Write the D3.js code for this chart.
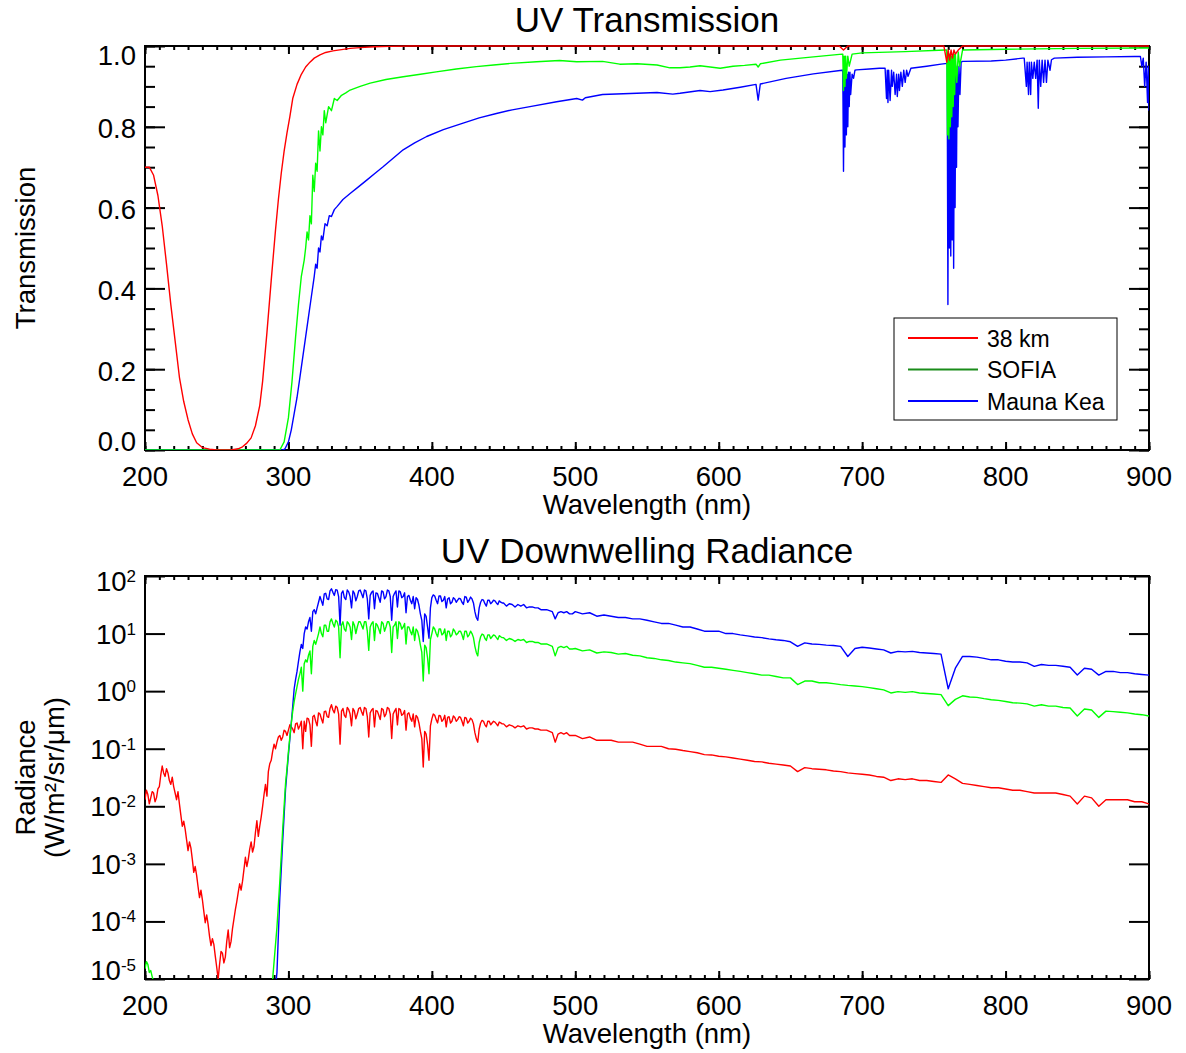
<!DOCTYPE html>
<html lang="en">
<head>
<meta charset="UTF-8">
<title>UV Transmission and Downwelling Radiance</title>
<script src="https://d3js.org/d3.v7.min.js"></script>
<style>
    body { margin: 0; background: white; }
    svg text { font-family: "Liberation Sans", Arial, Helvetica, sans-serif; fill: black; }
    .ticks .domain { display: none; }
    .ticks line { stroke: black; stroke-width: 2; }
</style>
</head>
<body>
<svg id="chart" width="1186" height="1053"></svg>
<script>

/** DATA **/
// series names
var seriesNames = ["38 km", "SOFIA", "Mauna Kea"];

// transmission, 38 km
var trans38Wave = [200,203,206,209,212,215,218,221,224,227,230,233,236,240,245,250,255,260,265,268,
    271,274,277,280,282,285,288,291,293,295,297,299,301,303,306,309,312,315,318,322,
    326,331,337,343,350,360,370,385,400,450,500,600,684,687,690,757,759,760,761,762,
    763,764,765,767,770,800,900];
var trans38 = [0.70,0.70,0.68,0.63,0.555,0.46,0.36,0.27,0.18,0.12,0.075,0.04,0.018,0.006,0.002,0,0,0,0.003,0.008,
    0.017,0.03,0.06,0.11,0.17,0.29,0.42,0.545,0.62,0.685,0.74,0.785,0.825,0.87,0.905,0.93,0.948,0.96,0.97,0.978,
    0.984,0.988,0.991,0.994,0.996,0.998,0.999,1,1,1,1,1,1,0.99,1,1,0.96,0.99,0.965,0.99,
    0.97,0.99,0.98,0.99,1,1,1];

// transmission, SOFIA
var transSofiaWave = [200,290,294,297,300,302.5,305,307,309,311,312,313,314,315,316,317,318,319,320,321,
    322,323,324,325,326,328,330,332,334,337,340,343,350,357,368,380,392,403,417,431,
    443,455,473,489,501,519,531,543,557,566,573,580,587,594,601,610,618,626,627.5,629,
    643,666,686,686.5,687,687.5,688,688.5,689,690,691,693,700,730,758,759,759.5,760,760.5,761,
    761.5,762,762.5,763,763.5,764,764.5,765,766,767,768,770,800,850,900];
var transSofia = [0,0,0,0.02,0.08,0.17,0.28,0.36,0.43,0.47,0.50,0.54,0.52,0.58,0.56,0.68,0.64,0.71,0.69,0.79,
    0.74,0.80,0.78,0.84,0.81,0.85,0.84,0.87,0.865,0.878,0.884,0.891,0.90,0.908,0.917,0.924,0.930,0.936,0.943,0.949,
    0.953,0.957,0.961,0.964,0.961,0.962,0.955,0.956,0.953,0.946,0.946,0.948,0.951,0.948,0.945,0.950,0.952,0.955,0.948,0.956,
    0.965,0.973,0.980,0.98,0.89,0.975,0.90,0.975,0.92,0.975,0.95,0.98,0.983,0.986,0.990,0.990,0.78,0.985,0.77,0.98,
    0.80,0.975,0.825,0.975,0.85,0.98,0.88,0.98,0.91,0.985,0.95,0.99,0.992,0.994,0.995];

// transmission, Mauna Kea
var transMKWave = [200,296,297.6,300,302,304,306,308,310,312,314,316,318,319,320,321,322,323,324,325.5,
    327,328.5,330,332,334,338,343,349,354.6,360,366,373,380,388,396.4,408,421.8,433,445,456,
    468.4,487,501,505,507,519,543,557,568,573,587,594,603,615,626,627.5,629,647,666,686,
    686.5,687,687.5,688,688.5,689,689.5,690,690.5,691,691.5,692,693,694,695,696,705,712,716,717,
    717.5,718,718.5,719.5,720.5,721,722,723,724,724.5,725.5,726,727,728,729,730,731,732,734,745,
    755,759.3,759.8,760.3,760.8,761.3,761.8,762.3,762.8,763.3,763.8,764.3,764.8,765.3,765.8,766.3,766.8,767.5,768.2,769,
    770,790,800,812,813,814.5,815,816,816.5,817.5,818,819,820,821,822,822.8,823.5,824.5,825.5,826.5,
    827.5,828.5,829.5,831,832,834,850,870,890,894,895,896,897,898,899,899.5,900];
var transMK = [0,0,0.003,0.02,0.05,0.09,0.13,0.18,0.23,0.28,0.33,0.38,0.43,0.46,0.45,0.50,0.49,0.53,0.52,0.56,
    0.555,0.58,0.578,0.595,0.603,0.62,0.635,0.652,0.668,0.684,0.701,0.722,0.743,0.760,0.776,0.793,0.809,0.822,0.833,0.842,
    0.850,0.862,0.870,0.866,0.872,0.880,0.883,0.885,0.881,0.883,0.890,0.887,0.891,0.898,0.905,0.866,0.906,0.920,0.931,0.940,
    0.94,0.69,0.93,0.75,0.93,0.78,0.93,0.80,0.935,0.85,0.935,0.88,0.93,0.92,0.94,0.941,0.943,0.945,0.945,0.87,
    0.94,0.86,0.94,0.865,0.94,0.90,0.935,0.88,0.93,0.875,0.93,0.89,0.935,0.90,0.94,0.91,0.94,0.925,0.945,0.950,
    0.955,0.957,0.36,0.95,0.50,0.94,0.48,0.93,0.52,0.92,0.45,0.93,0.60,0.94,0.70,0.95,0.80,0.95,0.88,0.96,
    0.962,0.963,0.965,0.970,0.97,0.90,0.96,0.88,0.96,0.88,0.96,0.92,0.96,0.92,0.965,0.846,0.965,0.90,0.965,0.91,
    0.965,0.91,0.965,0.94,0.966,0.97,0.972,0.973,0.974,0.974,0.95,0.97,0.90,0.96,0.86,0.95,0.84];

// radiance wavelength grid (nm)
var radWave = [200,201,202,203,204,205,206,207,208,209,210,211,212,213,214,215,216,217,218,219,
    220,221,222,223,224,225,226,227,228,229,230,231,232,233,234,235,236,237,238,239,
    240,241,242,243,244,245,246,247,248,249,250,251,252,253,254,255,256,257,258,259,
    260,261,262,263,264,265,266,267,268,269,270,271,272,273,274,275,276,277,278,279,
    280,281,282,283,284,285,286,287,288,289,290,291,292,293,294,295,296,297,298,299,
    300,301,302,303,304,305,306,307,308,309,310,311,312,313,314,315,316,317,318,319,
    320,321,322,323,324,325,326,327,328,329,330,331,332,333,334,335,336,337,338,339,
    340,341,342,343,344,345,346,347,348,349,350,351,352,353,354,355,356,357,358,359,
    360,361,362,363,364,365,366,367,368,369,370,371,372,373,374,375,376,377,378,379,
    380,381,382,383,384,385,386,387,388,389,390,391,392,393,394,395,396,397,398,399,
    400,401,402,403,404,405,406,407,408,409,410,411,412,413,414,415,416,417,418,419,
    420,421,422,423,424,425,426,427,428,429,430,431,432,433,434,435,436,437,438,439,
    440,441,442,443,444,445,446,447,448,449,
    450,452,454,456,458,460,462,464,466,468,470,472,474,476,478,480,482,484,486,488,
    490,492,494,496,498,
    500,505,510,515,520,525,530,535,540,545,550,555,560,565,570,575,580,585,590,595,
    600,605,610,615,620,625,630,635,640,645,650,655,660,665,670,675,680,685,690,695,
    700,705,710,715,720,725,730,735,740,745,750,755,760,765,770,775,780,785,790,795,
    800,805,810,815,820,825,830,835,840,845,850,855,860,865,870,875,880,885,890,895,900];

// radiance, 38 km (W/m2/sr/um)
var rad38 = [
    1.3e-2,1.9e-2,1.6e-2,1.1e-2,1.4e-2,1.8e-2,1.7e-2,1.2e-2,1.4e-2,2.0e-2,
    2.2e-2,3.5e-2,5.0e-2,3.8e-2,3.3e-2,4.5e-2,3.8e-2,2.8e-2,2.4e-2,3.2e-2,
    2.2e-2,1.7e-2,1.3e-2,1.8e-2,1.1e-2,7.0e-3,4.5e-3,5.5e-3,4.0e-3,2.6e-3,
    1.7e-3,2.4e-3,1.9e-3,1.2e-3,7.1e-4,9.0e-4,6.3e-4,4.0e-4,2.6e-4,3.5e-4,
    2.4e-4,1.5e-4,9.5e-5,1.3e-4,8.9e-5,5.5e-5,3.8e-5,5.0e-5,4.0e-5,2.5e-5,
    1.6e-5,1.0e-5,1.8e-5,3.0e-5,2.8e-5,1.9e-5,2.4e-5,4.5e-5,7.1e-5,3.5e-5,
    4.5e-5,7.5e-5,1.1e-4,1.6e-4,2.2e-4,3.2e-4,4.5e-4,3.5e-4,5.0e-4,8.0e-4,
    1.3e-3,9.0e-4,1.2e-3,1.8e-3,2.4e-3,1.6e-3,2.0e-3,3.5e-3,5.6e-3,3.0e-3,
    4.5e-3,6.5e-3,1.0e-2,1.6e-2,2.4e-2,1.5e-2,4.0e-2,5.5e-2,6.3e-2,9.0e-2,
    0.12,0.10,0.13,0.16,0.17,0.14,0.16,0.21,0.20,0.17,
    0.21,0.26,0.24,0.22,0.19,0.27,0.28,0.22,0.25,0.30,
    0.10,0.30,0.20,0.34,0.33,0.26,0.11,0.36,0.38,0.30,
    0.25,0.42,0.40,0.33,0.28,0.44,0.45,0.36,0.35,0.50,
    0.58,0.47,0.42,0.55,0.52,0.40,0.12,0.45,0.50,0.38,
    0.35,0.52,0.48,0.40,0.25,0.50,0.45,0.33,0.40,0.50,
    0.52,0.44,0.38,0.52,0.50,0.36,0.16,0.42,0.47,0.50,
    0.24,0.46,0.45,0.38,0.32,0.50,0.48,0.36,0.40,0.52,
    0.50,0.40,0.15,0.40,0.45,0.50,0.26,0.50,0.48,0.38,
    0.40,0.46,0.21,0.40,0.42,0.34,0.30,0.40,0.24,0.38,
    0.35,0.28,0.20,0.15,0.048,0.20,0.18,0.12,0.063,0.25,
    0.33,0.40,0.38,0.32,0.28,0.38,0.37,0.30,0.32,0.38,
    0.24,0.35,0.36,0.28,0.30,0.37,0.35,0.30,0.32,0.36,
    0.35,0.30,0.25,0.35,0.34,0.28,0.30,0.34,0.32,0.27,
    0.19,0.15,0.13,0.22,0.28,0.31,0.30,0.26,0.24,0.30,
    0.30,0.26,0.28,0.30,0.29,0.27,0.25,0.29,0.28,0.27,
    0.27,0.24,0.26,0.25,0.23,0.25,0.24,0.25,0.22,0.23,
    0.23,0.22,0.22,0.21,0.21,0.21,0.20,0.19,0.13,0.18,
    0.19,0.18,0.19,0.17,0.17,
    0.17,0.15,0.16,0.14,0.14,0.14,0.13,0.13,0.13,0.12,
    0.11,0.11,0.11,0.10,0.098,0.093,0.089,0.085,0.079,0.078,
    0.074,0.072,0.069,0.066,0.063,0.060,0.059,0.056,0.054,0.052,
    0.050,0.040,0.047,0.045,0.044,0.043,0.041,0.040,0.038,0.037,
    0.036,0.035,0.033,0.032,0.028,0.030,0.029,0.030,0.028,0.028,
    0.027,0.026,0.035,0.030,0.025,0.024,0.023,0.022,0.021,0.021,
    0.020,0.019,0.019,0.018,0.017,0.017,0.017,0.017,0.016,0.015,
    0.011,0.015,0.014,0.010,0.013,0.013,0.013,0.013,0.012,0.012,0.011];

// radiance, SOFIA (null = below plot range)
var radSofia = [
    1.5e-5,2.0e-5,1.8e-5,1.3e-5,1.4e-5,1.1e-5,9e-6,6e-6,4e-6,null,
    null,null,null,null,null,null,null,null,null,null,
    null,null,null,null,null,null,null,null,null,null,
    null,null,null,null,null,null,null,null,null,null,
    null,null,null,null,null,null,null,null,null,null,
    null,null,null,null,null,null,null,null,null,null,
    null,null,null,null,null,null,null,null,null,null,
    null,null,null,null,null,null,null,null,null,null,
    null,null,null,null,null,null,null,2e-6,5e-6,1.0e-5,
    2e-5,4e-5,7.9e-5,2e-4,5e-4,1.4e-3,4e-3,1.0e-2,2.5e-2,4.5e-2,
    0.089,0.16,0.28,0.45,0.66,0.90,1.2,1.6,2.0,2.6,
    1.0,3.0,3.5,3.2,4.2,5.0,2.0,6.0,7.6,6.5,
    8.0,10,13,10,8.8,14,14,11,11,16,
    18,15,13,17,16,13,3.8,14,16,12,
    11,16,15,13,7.9,16,14,10,13,16,
    16,14,12,16,16,11,5.1,13,15,16,
    7.6,15,14,12,10,16,15,11,13,16,
    16,13,4.7,13,14,16,8.2,16,15,12,
    13,15,6.6,13,13,11,9.5,13,7.6,12,
    11,8.8,6.3,4.7,1.5,6.3,5.7,3.8,2.0,7.9,
    10,13,12,10,8.8,12,12,9.5,10,12,
    7.6,11,11,8.8,9.5,12,11,9.5,10,11,
    11,9.5,7.9,11,11,8.8,9.5,11,10,8.5,
    6.0,4.7,4.1,7.0,8.8,9.8,9.5,8.2,7.6,9.5,
    9.5,8.2,8.8,9.5,9.2,8.5,7.9,9.2,8.8,8.5,
    8.5,7.6,8.2,7.9,7.3,7.9,7.6,7.9,7.0,7.3,
    7.3,7.0,7.0,6.6,6.6,6.6,6.3,6.0,4.1,5.7,
    6.0,5.7,6.0,5.4,5.4,
    5.5,5.0,5.2,4.6,4.8,4.7,4.4,4.5,4.2,4.1,
    3.8,3.7,3.5,3.4,3.2,3.1,3.0,2.8,2.6,2.6,
    2.5,2.4,2.3,2.2,2.1,2.0,1.9,1.9,1.8,1.7,
    1.7,1.3,1.5,1.5,1.4,1.4,1.35,1.3,1.26,1.23,
    1.2,1.15,1.1,1.05,0.93,0.98,0.95,0.98,0.93,0.91,
    0.89,0.87,0.56,0.72,0.83,0.79,0.78,0.74,0.71,0.69,
    0.66,0.63,0.62,0.60,0.55,0.58,0.55,0.55,0.52,0.51,
    0.37,0.49,0.47,0.35,0.45,0.44,0.43,0.42,0.40,0.39,0.37];

// radiance, Mauna Kea (null = below plot range)
var radMK = [
    null,null,null,null,null,null,null,null,null,null,
    null,null,null,null,null,null,null,null,null,null,
    null,null,null,null,null,null,null,null,null,null,
    null,null,null,null,null,null,null,null,null,null,
    null,null,null,null,null,null,null,null,null,null,
    null,null,null,null,null,null,null,null,null,null,
    null,null,null,null,null,null,null,null,null,null,
    null,null,null,null,null,null,null,null,null,null,
    null,null,null,null,null,null,null,null,1e-6,2e-6,
    4e-6,7e-6,1.3e-5,6e-5,2.6e-4,8e-4,2.5e-3,7e-3,2.0e-2,4.0e-2,
    0.079,0.15,0.28,0.55,1.1,1.6,2.2,3.3,4.8,6.5,
    5.5,10,13,12,16,19,11,24,26,22,
    28,35,44,37,31,49,50,40,39,55,
    60,52,46,58,57,44,14,50,55,42,
    39,57,53,44,28,55,50,37,44,55,
    57,49,42,57,55,40,18,46,52,55,
    27,51,50,42,35,55,53,40,44,57,
    55,44,17,44,50,55,29,55,53,42,
    44,51,23,44,46,38,33,44,27,42,
    39,31,22,17,7.3,22,20,13,8.3,28,
    42,47,45,38,33,45,45,36,38,44,
    28,40,42,33,35,42,40,35,38,41,
    40,35,32,44,43,35,38,43,40,34,
    24,19,17,28,35,39,38,33,30,38,
    38,33,35,38,37,34,32,37,35,34,
    34,30,33,32,29,32,30,32,28,29,
    29,28,28,26,26,26,25,24,18,23,
    24,23,24,22,22,
    24,22,23,20,21,20,19,19,18,18,
    17,16,15,15,14,13,13,12,11,11,
    11,10,10,9.5,9.1,8.7,8.5,8.1,7.8,7.6,
    7.2,6.0,6.9,6.6,6.5,6.3,6.2,6.0,4.0,5.5,
    5.8,5.6,5.4,5.2,4.6,4.9,4.8,4.9,4.7,4.6,
    4.5,4.4,1.1,2.5,4.0,4.0,3.9,3.7,3.5,3.5,
    3.3,3.2,3.2,3.1,2.7,2.9,2.8,2.8,2.7,2.6,
    1.9,2.5,2.4,1.9,2.2,2.2,2.1,2.1,2.0,1.95,1.9];

// axis ticks
var xMajorTicks = [200, 300, 400, 500, 600, 700, 800, 900];
var xMinorTicks = d3.range(200, 901, 10);
var transMajorTicks = [0, 0.2, 0.4, 0.6, 0.8, 1.0];
var transMinorTicks = d3.range(0, 1.001, 0.05);
var radExponents = [-5, -4, -3, -2, -1, 0, 1, 2];

/** LAYOUT **/
var left = 145, right = 1149;
var topPanel = {top: 46, bottom: 450};
var botPanel = {top: 576, bottom: 979};
var colors = ["#ff0000", "#00ff00", "#0000ff"];
var legendColors = ["#ff0000", "#1a8c1a", "#0000ff"];

var svg = d3.select("#chart");

var x = d3.scaleLinear().domain([200, 900]).range([left, right]);
var yTrans = d3.scaleLinear().domain([0, 1]).range([topPanel.bottom, topPanel.top]);
var yRad = d3.scaleLog().domain([1e-5, 1e2]).range([botPanel.bottom, botPanel.top]);

var defs = svg.append("defs");
defs.append("clipPath").attr("id", "clipTop").append("rect")
    .attr("x", left).attr("y", topPanel.top - 2)
    .attr("width", right - left).attr("height", topPanel.bottom - topPanel.top + 2);
defs.append("clipPath").attr("id", "clipBot").append("rect")
    .attr("x", left).attr("y", botPanel.top)
    .attr("width", right - left).attr("height", botPanel.bottom - botPanel.top);

// frame + inward ticks on all four sides
function drawFrame(yScale, yMajor, yMinor) {
    var y0 = yScale.range()[0], y1 = yScale.range()[1];
    var g = svg.append("g").attr("class", "ticks");
    g.append("g").attr("transform", "translate(0," + y0 + ")")
        .call(d3.axisBottom(x).tickValues(xMinorTicks).tickSize(-4).tickFormat(""));
    g.append("g").attr("transform", "translate(0," + y0 + ")")
        .call(d3.axisBottom(x).tickValues(xMajorTicks).tickSize(-8).tickFormat(""));
    g.append("g").attr("transform", "translate(0," + y1 + ")")
        .call(d3.axisTop(x).tickValues(xMinorTicks).tickSize(-4).tickFormat(""));
    g.append("g").attr("transform", "translate(0," + y1 + ")")
        .call(d3.axisTop(x).tickValues(xMajorTicks).tickSize(-8).tickFormat(""));
    if (yMinor) {
        g.append("g").attr("transform", "translate(" + left + ",0)")
            .call(d3.axisLeft(yScale).tickValues(yMinor).tickSize(-10).tickFormat(""));
        g.append("g").attr("transform", "translate(" + right + ",0)")
            .call(d3.axisRight(yScale).tickValues(yMinor).tickSize(-10).tickFormat(""));
    }
    g.append("g").attr("transform", "translate(" + left + ",0)")
        .call(d3.axisLeft(yScale).tickValues(yMajor).tickSize(-20).tickFormat(""));
    g.append("g").attr("transform", "translate(" + right + ",0)")
        .call(d3.axisRight(yScale).tickValues(yMajor).tickSize(-20).tickFormat(""));
    svg.append("rect")
        .attr("x", left).attr("y", y1)
        .attr("width", right - left).attr("height", y0 - y1)
        .attr("fill", "none").attr("stroke", "black").attr("stroke-width", 2);

    // x tick labels
    svg.append("g").selectAll("text")
        .data(xMajorTicks)
        .enter().append("text")
        .attr("x", function (d) { return x(d); })
        .attr("y", y0 + 36)
        .attr("text-anchor", "middle")
        .attr("font-size", 27.5)
        .text(function (d) { return d; });
    svg.append("text")
        .attr("x", (left + right) / 2).attr("y", y0 + 64)
        .attr("text-anchor", "middle").attr("font-size", 27.5)
        .text("Wavelength (nm)");
}

function drawLine(clipId, yScale, waves, values, color) {
    var line = d3.line()
        .defined(function (d) { return d[1] != null; })
        .x(function (d) { return x(d[0]); })
        .y(function (d) { return yScale(d[1]); });
    svg.append("path")
        .datum(d3.zip(waves, values))
        .attr("clip-path", "url(#" + clipId + ")")
        .attr("fill", "none")
        .attr("stroke", color)
        .attr("stroke-width", 1.4)
        .attr("stroke-linejoin", "round")
        .attr("d", line);
}

/** TOP PANEL **/
svg.append("text")
    .attr("x", (left + right) / 2).attr("y", 32)
    .attr("text-anchor", "middle").attr("font-size", 35)
    .text("UV Transmission");

drawFrame(yTrans, transMajorTicks, transMinorTicks);

svg.append("g").selectAll("text")
    .data(transMajorTicks)
    .enter().append("text")
    .attr("x", 136)
    .attr("y", function (d) {
        var shift = d === 1 ? 9 : (d === 0 ? -9 : 1.5);
        return yTrans(d) + shift + 10;
    })
    .attr("text-anchor", "end")
    .attr("font-size", 27.5)
    .text(function (d) { return d3.format(".1f")(d); });

svg.append("text")
    .attr("transform", "translate(35," + (topPanel.top + topPanel.bottom) / 2 + ") rotate(-90)")
    .attr("text-anchor", "middle").attr("font-size", 27.5)
    .text("Transmission");

drawLine("clipTop", yTrans, transMKWave, transMK, colors[2]);
drawLine("clipTop", yTrans, transSofiaWave, transSofia, colors[1]);
drawLine("clipTop", yTrans, trans38Wave, trans38, colors[0]);

// legend
var legend = svg.append("g");
legend.append("rect")
    .attr("x", 894).attr("y", 318).attr("width", 223).attr("height", 102)
    .attr("fill", "white").attr("stroke", "black").attr("stroke-width", 1);
seriesNames.forEach(function (name, i) {
    var ly = 338 + i * 31.5;
    legend.append("line")
        .attr("x1", 908).attr("x2", 978).attr("y1", ly).attr("y2", ly)
        .attr("stroke", legendColors[i]).attr("stroke-width", 2);
    legend.append("text")
        .attr("x", 987).attr("y", ly + 8.5)
        .attr("font-size", 23)
        .text(name);
});

/** BOTTOM PANEL **/
svg.append("text")
    .attr("x", (left + right) / 2).attr("y", 563)
    .attr("text-anchor", "middle").attr("font-size", 35)
    .text("UV Downwelling Radiance");

drawFrame(yRad, radExponents.map(function (e) { return Math.pow(10, e); }), null);

var radLabels = svg.append("g").selectAll("text")
    .data(radExponents)
    .enter().append("text")
    .attr("x", 136)
    .attr("y", function (e) {
        var shift = e === 2 ? 5 : (e === -5 ? -9 : 0);
        return yRad(Math.pow(10, e)) + shift + 10;
    })
    .attr("text-anchor", "end")
    .attr("font-size", 27.5);
radLabels.append("tspan").text("10");
radLabels.append("tspan")
    .attr("dy", -9).attr("font-size", 17)
    .text(function (e) { return e; });

svg.append("text")
    .attr("transform", "translate(35," + (botPanel.top + botPanel.bottom) / 2 + ") rotate(-90)")
    .attr("text-anchor", "middle").attr("font-size", 27.5)
    .text("Radiance");
svg.append("text")
    .attr("transform", "translate(64," + (botPanel.top + botPanel.bottom) / 2 + ") rotate(-90)")
    .attr("text-anchor", "middle").attr("font-size", 27.5)
    .text("(W/m²/sr/μm)");

drawLine("clipBot", yRad, radWave, rad38, colors[0]);
drawLine("clipBot", yRad, radWave, radMK, colors[2]);
drawLine("clipBot", yRad, radWave, radSofia, colors[1]);

</script>
</body>
</html>
